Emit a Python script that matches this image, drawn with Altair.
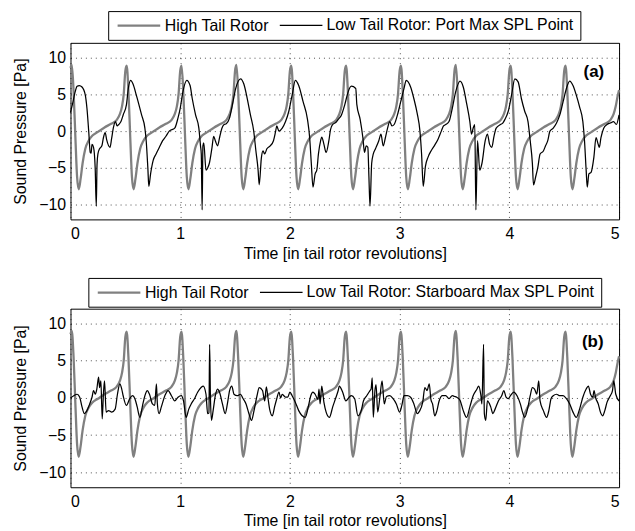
import altair as alt
import pandas as pd

HIGH = "High Tail Rotor"
PORT = "Low Tail Rotor: Port Max SPL Point"
STAR = "Low Tail Rotor: Starboard Max SPL Point"

x_ticks = [0, 1, 2, 3, 4, 5]
y_ticks = [-10, -5, 0, 5, 10]

# High tail rotor (same in both panels)
high_t = [
    0.000, 0.012, 0.028, 0.045, 0.060, 0.075, 0.092, 0.110, 0.135, 0.165, 0.200, 0.250, 0.310, 0.370, 0.420, 0.450, 0.470, 0.485,
    0.500, 0.512, 0.528, 0.545, 0.560, 0.575, 0.592, 0.610, 0.635, 0.665, 0.700, 0.750, 0.810, 0.870, 0.920, 0.950, 0.970, 0.985,
    1.000, 1.012, 1.028, 1.045, 1.060, 1.075, 1.092, 1.110, 1.135, 1.165, 1.200, 1.250, 1.310, 1.370, 1.420, 1.450, 1.470, 1.485,
    1.500, 1.512, 1.528, 1.545, 1.560, 1.575, 1.592, 1.610, 1.635, 1.665, 1.700, 1.750, 1.810, 1.870, 1.920, 1.950, 1.970, 1.985,
    2.000, 2.012, 2.028, 2.045, 2.060, 2.075, 2.092, 2.110, 2.135, 2.165, 2.200, 2.250, 2.310, 2.370, 2.420, 2.450, 2.470, 2.485,
    2.500, 2.512, 2.528, 2.545, 2.560, 2.575, 2.592, 2.610, 2.635, 2.665, 2.700, 2.750, 2.810, 2.870, 2.920, 2.950, 2.970, 2.985,
    3.000, 3.012, 3.028, 3.045, 3.060, 3.075, 3.092, 3.110, 3.135, 3.165, 3.200, 3.250, 3.310, 3.370, 3.420, 3.450, 3.470, 3.485,
    3.500, 3.512, 3.528, 3.545, 3.560, 3.575, 3.592, 3.610, 3.635, 3.665, 3.700, 3.750, 3.810, 3.870, 3.920, 3.950, 3.970, 3.985,
    4.000, 4.012, 4.028, 4.045, 4.060, 4.075, 4.092, 4.110, 4.135, 4.165, 4.200, 4.250, 4.310, 4.370, 4.420, 4.450, 4.470, 4.485,
    4.500, 4.512, 4.528, 4.545, 4.560, 4.575, 4.592, 4.610, 4.635, 4.665, 4.700, 4.750, 4.810, 4.870, 4.920, 4.950, 4.970, 4.985,
    5.000,
]
high_v = [
    8.6, 9.0, 5.5, -1.0, -6.2, -7.9, -6.5, -4.4, -2.4, -1.3, -0.6, -0.1, 0.5, 1.0, 1.5, 2.3, 3.4, 5.0,
    8.2, 8.9, 5.5, -1.0, -6.2, -7.9, -6.5, -4.4, -2.4, -1.3, -0.6, -0.1, 0.5, 1.0, 1.5, 2.3, 3.4, 5.0,
    8.2, 8.9, 5.4, -1.1, -6.2, -7.9, -6.5, -4.4, -2.4, -1.3, -0.6, -0.1, 0.5, 1.0, 1.5, 2.3, 3.4, 5.0,
    8.2, 9.0, 5.5, -1.0, -6.2, -7.9, -6.5, -4.4, -2.4, -1.3, -0.6, -0.1, 0.5, 1.0, 1.5, 2.3, 3.4, 5.0,
    8.2, 8.9, 5.5, -1.0, -6.2, -7.9, -6.5, -4.4, -2.4, -1.3, -0.6, -0.1, 0.5, 1.0, 1.5, 2.3, 3.4, 5.0,
    8.2, 8.9, 5.5, -1.0, -6.2, -7.9, -6.5, -4.4, -2.4, -1.3, -0.6, -0.1, 0.5, 1.0, 1.5, 2.3, 3.4, 5.0,
    8.2, 8.9, 5.5, -1.0, -6.2, -7.9, -6.5, -4.4, -2.4, -1.3, -0.6, -0.1, 0.5, 1.0, 1.5, 2.3, 3.4, 5.0,
    8.2, 9.0, 5.5, -1.0, -6.2, -7.9, -6.5, -4.4, -2.4, -1.3, -0.6, -0.1, 0.5, 1.0, 1.5, 2.3, 3.4, 5.0,
    8.2, 8.9, 5.5, -1.0, -6.2, -7.9, -6.5, -4.4, -2.4, -1.3, -0.6, -0.1, 0.5, 1.0, 1.5, 2.3, 3.4, 5.0,
    8.2, 8.9, 5.5, -1.0, -6.2, -7.9, -6.5, -4.4, -2.4, -1.3, -0.6, -0.1, 0.5, 1.0, 1.5, 2.3, 3.4, 4.6,
    5.6,
]

# Low tail rotor, port max SPL point (panel a)
port_t = [
    0.000, 0.020, 0.040, 0.060, 0.080, 0.105, 0.135, 0.150, 0.166, 0.180, 0.188, 0.196, 0.210, 0.225, 0.235, 0.242,
    0.250, 0.265, 0.286, 0.300, 0.316, 0.330, 0.360, 0.375, 0.390, 0.410, 0.425, 0.440, 0.460, 0.480, 0.510, 0.527,
    0.548, 0.570, 0.600, 0.648, 0.678, 0.690, 0.705, 0.714, 0.730, 0.753, 0.780, 0.810, 0.840, 0.870, 0.900, 0.950,
    0.980, 1.000, 1.024, 1.060, 1.090, 1.110, 1.140, 1.170, 1.185, 1.192, 1.200, 1.207, 1.215, 1.235, 1.250, 1.265,
    1.290, 1.305, 1.320, 1.340, 1.360, 1.380, 1.400, 1.420, 1.450, 1.476, 1.506, 1.550, 1.580, 1.610, 1.640, 1.670,
    1.690, 1.710, 1.720, 1.740, 1.755, 1.770, 1.790, 1.820, 1.850, 1.870, 1.880, 1.900, 1.930, 1.960, 1.990, 2.020,
    2.050, 2.080, 2.120, 2.160, 2.180, 2.195, 2.210, 2.230, 2.245, 2.260, 2.280, 2.290, 2.310, 2.330, 2.355, 2.370,
    2.390, 2.420, 2.440, 2.470, 2.500, 2.530, 2.560, 2.600, 2.610, 2.640, 2.665, 2.680, 2.695, 2.710, 2.720, 2.730,
    2.745, 2.760, 2.780, 2.810, 2.830, 2.850, 2.870, 2.890, 2.910, 2.930, 2.950, 2.980, 3.010, 3.040, 3.060, 3.100,
    3.130, 3.160, 3.185, 3.200, 3.215, 3.235, 3.260, 3.290, 3.320, 3.350, 3.380, 3.400, 3.420, 3.450, 3.480, 3.510,
    3.550, 3.580, 3.610, 3.640, 3.655, 3.670, 3.685, 3.695, 3.710, 3.730, 3.750, 3.780, 3.800, 3.820, 3.840, 3.860,
    3.880, 3.920, 3.940, 3.960, 3.990, 4.020, 4.050, 4.080, 4.110, 4.140, 4.170, 4.190, 4.210, 4.220, 4.240, 4.260,
    4.280, 4.310, 4.330, 4.350, 4.370, 4.400, 4.430, 4.460, 4.490, 4.520, 4.550, 4.580, 4.610, 4.640, 4.670, 4.685,
    4.700, 4.710, 4.725, 4.745, 4.770, 4.790, 4.810, 4.820, 4.835, 4.860, 4.890, 4.920, 4.950, 4.975, 5.000,
]
port_v = [
    2.5, 3.8, 5.2, 6.1, 6.2, 6.0, 4.9, 3.1, 0.0, -2.9, -3.0, -1.8, -2.2, -5.0, -10.2, -4.5,
    -3.1, -2.4, -2.0, -0.9, -0.2, -1.2, -2.2, -1.0, 0.4, 1.3, 0.7, 0.9, 1.3, 2.2, 3.6, 5.8,
    6.9, 6.4, 4.9, 2.2, 0.4, -1.3, -5.0, -7.5, -5.8, -4.0, -3.1, -2.2, -1.3, -0.7, 0.0, 0.4,
    1.8, 3.1, 5.3, 6.9, 6.2, 4.4, 2.2, 0.4, -2.0, -3.1, -10.7, -2.0, -1.6, -5.3, -5.0, -4.4,
    -2.2, -0.7, -1.3, -2.0, -0.8, 0.4, 0.9, 1.0, 1.8, 3.6, 5.8, 7.1, 6.4, 4.5, 2.2, 0.0,
    -2.7, -5.3, -7.3, -3.6, -2.7, -3.1, -2.4, -2.0, -1.3, 0.0, 0.7, 0.0, 0.4, 1.3, 2.7, 4.9,
    6.9, 6.2, 4.0, 1.6, -0.9, -4.4, -7.6, -5.8, -5.3, -3.1, -1.3, -0.8, -1.8, -2.9, -1.3, 0.2,
    0.9, 1.2, 1.6, 2.2, 3.6, 5.3, 6.1, 5.8, 3.6, 1.6, -0.9, -2.9, -2.0, -2.2, -6.2, -10.2,
    -4.4, -3.1, -2.4, -1.3, -0.4, -2.0, -0.9, 0.4, 1.3, 0.7, 0.9, 2.2, 4.0, 5.8, 6.9, 6.0,
    4.4, 2.4, 0.0, -3.1, -7.5, -4.8, -3.5, -2.6, -1.9, -1.1, 0.0, 0.7, 0.9, 1.3, 3.1, 5.3,
    6.8, 6.0, 3.8, 1.3, -0.4, 0.4, 0.9, -10.7, -1.3, -5.3, -4.4, -1.3, -0.4, -1.8, -2.2, -0.7,
    0.4, 0.9, 1.1, 1.6, 2.7, 4.9, 7.1, 6.7, 4.4, 2.7, 1.3, -1.3, -4.4, -7.3, -6.2, -4.9,
    -3.1, -2.7, -2.0, -1.3, 0.0, 0.4, 1.1, 2.2, 4.0, 5.8, 6.8, 6.2, 4.9, 3.3, 1.3, -1.3,
    -5.3, -7.6, -5.8, -5.6, -3.6, -0.9, -1.8, -2.2, -0.9, 0.4, 0.9, 1.1, 1.3, 0.9, 2.2,
]

# Low tail rotor, starboard max SPL point (panel b)
star_t = [
    0.000, 0.030, 0.060, 0.084, 0.105, 0.127, 0.150, 0.175, 0.196, 0.210, 0.226, 0.240, 0.256, 0.265, 0.277, 0.289,
    0.300, 0.310, 0.325, 0.346, 0.376, 0.407, 0.428, 0.450, 0.467, 0.480, 0.510, 0.540, 0.566, 0.587, 0.608, 0.632,
    0.657, 0.678, 0.700, 0.720, 0.747, 0.768, 0.783, 0.792, 0.807, 0.828, 0.860, 0.890, 0.920, 0.950, 0.980, 1.010,
    1.030, 1.054, 1.078, 1.100, 1.130, 1.160, 1.190, 1.210, 1.235, 1.250, 1.262, 1.268, 1.275, 1.285, 1.300, 1.320,
    1.340, 1.360, 1.385, 1.410, 1.430, 1.450, 1.470, 1.490, 1.520, 1.550, 1.570, 1.600, 1.630, 1.650, 1.670, 1.700,
    1.720, 1.750, 1.770, 1.785, 1.800, 1.815, 1.840, 1.860, 1.880, 1.900, 1.915, 1.930, 1.945, 1.960, 1.980, 2.000,
    2.020, 2.050, 2.080, 2.140, 2.170, 2.190, 2.210, 2.230, 2.255, 2.265, 2.275, 2.290, 2.310, 2.330, 2.360, 2.390,
    2.420, 2.440, 2.450, 2.480, 2.510, 2.540, 2.560, 2.590, 2.620, 2.650, 2.670, 2.700, 2.730, 2.740, 2.750, 2.760,
    2.775, 2.785, 2.800, 2.820, 2.840, 2.860, 2.880, 2.910, 2.940, 2.970, 3.000, 3.020, 3.040, 3.070, 3.100, 3.130,
    3.160, 3.180, 3.210, 3.230, 3.250, 3.270, 3.285, 3.300, 3.320, 3.340, 3.360, 3.390, 3.420, 3.450, 3.480, 3.500,
    3.520, 3.550, 3.580, 3.610, 3.640, 3.670, 3.705, 3.720, 3.740, 3.750, 3.765, 3.772, 3.785, 3.800, 3.830, 3.850,
    3.870, 3.900, 3.930, 3.950, 3.970, 3.990, 4.010, 4.040, 4.070, 4.100, 4.120, 4.140, 4.170, 4.190, 4.210, 4.230,
    4.250, 4.268, 4.280, 4.310, 4.340, 4.360, 4.380, 4.400, 4.430, 4.460, 4.490, 4.520, 4.550, 4.580, 4.610, 4.640,
    4.670, 4.700, 4.720, 4.740, 4.760, 4.772, 4.785, 4.810, 4.830, 4.850, 4.870, 4.890, 4.920, 4.940, 4.952, 4.970,
    5.000,
]
star_v = [
    0.0, 0.3, 0.5, 0.1, -1.2, -2.1, -1.7, -0.8, 0.1, 1.0, 0.5, 1.2, 2.8, 1.4, 2.3, -2.8,
    0.5, 2.3, -1.9, -1.7, -1.9, -1.5, 0.5, 1.9, 1.2, 0.3, -1.0, -0.1, 0.3, -0.1, -1.2, -2.6,
    -1.0, 0.3, 1.0, 0.5, -0.8, -1.0, 1.9, -0.8, -2.1, -1.2, 0.3, 1.0, 0.3, -0.4, 0.1, 0.3,
    -0.4, -2.6, -1.5, -0.8, -0.1, 0.8, 1.4, 1.6, 0.5, -2.1, -2.0, 7.2, 0.5, -3.0, -1.7, 0.3,
    1.2, 0.7, -0.8, -2.1, -0.8, 1.0, 1.6, 0.5, 0.3, 0.5, 0.0, -0.8, -2.3, -3.0, -1.9, 0.3,
    1.4, 1.0, -0.4, 1.5, 0.0, -1.5, -2.4, -1.2, -0.1, 0.8, 0.0, 0.5, 0.3, 0.1, 0.1, 0.8,
    0.3, -0.6, -1.7, -2.6, -1.0, 0.3, 0.8, 0.5, -0.2, 1.2, -0.8, 1.6, -0.6, -1.9, -2.6, -1.2,
    0.1, 1.0, 1.6, 0.8, -0.4, 0.1, 0.3, -0.1, -2.4, -1.7, -0.4, 0.3, 1.0, 1.2, 2.7, -2.6,
    1.0, 1.8, -1.9, 0.1, 2.3, -0.8, 0.2, 0.3, -0.1, -0.8, -1.9, -1.0, 0.3, 0.3, 0.1, -0.8,
    -2.1, -1.8, -0.6, 1.4, 1.0, 1.9, -0.2, -0.8, -2.4, -1.7, -0.4, 0.3, 0.3, -0.1, 0.3, 0.2,
    0.1, -0.3, -1.7, -2.6, -1.2, 0.3, 1.2, 1.6, 0.4, -0.8, 7.2, -2.1, -3.0, -0.4, -1.2, -2.1,
    -1.5, -0.4, 0.3, 1.0, 0.1, -0.1, 0.3, 0.8, 0.3, -0.8, -1.9, -2.6, -1.2, 0.3, 1.4, 1.2,
    0.5, 2.3, -0.4, -1.7, -2.6, -1.7, -0.1, 0.3, 0.5, 0.3, 0.3, -0.1, -0.8, -1.9, -2.6, -1.5,
    0.1, 1.2, 1.6, 0.5, 0.1, 1.0, 0.1, -0.8, -1.9, -2.4, -1.7, -0.6, 0.3, 1.0, 2.3, 0.5,
    -0.4,
]

panel_labels = ["(a)", "(b)"]
label_t = [4.77, 4.76]
label_v = [8.0, 7.5]

FONT = "Liberation Sans"
GRAY = "#808080"


def panel(low_t, low_v, low_name, idx):
    domain = [HIGH, low_name]
    high_df = pd.DataFrame({"t": high_t, "p": high_v, "series": HIGH})
    low_df = pd.DataFrame({"t": low_t, "p": low_v, "series": low_name})
    lab_df = pd.DataFrame({"t": [label_t[idx]], "p": [label_v[idx]], "txt": [panel_labels[idx]]})

    x = alt.X("t:Q", scale=alt.Scale(domain=[0, 5], nice=False, zero=False),
              axis=alt.Axis(values=x_ticks, format="d", title="Time [in tail rotor revolutions]"))
    y = alt.Y("p:Q", scale=alt.Scale(domain=[-12, 12], nice=False),
              axis=alt.Axis(values=y_ticks, format="d", title="Sound Pressure [Pa]"))
    color = alt.Color(
        "series:N",
        scale=alt.Scale(domain=domain, range=[GRAY, "#000000"]),
        legend=alt.Legend(
            orient="none", legendX=38 if idx == 0 else 18, legendY=-32 if idx == 0 else -31,
            direction="horizontal", title=None,
            symbolType="M-0.7,0H5.3", symbolSize=205, symbolStrokeWidth=1.6,
            labelOffset=34, labelFont=FONT, labelFontSize=16, labelColor="black",
            labelLimit=0, columnPadding=8, padding=6,
            strokeColor="black", fillColor="white",
        ),
    )
    sw = alt.StrokeWidth("series:N", scale=alt.Scale(domain=domain, range=[2.3, 1.25]), legend=None)

    high_line = alt.Chart(high_df).mark_line(interpolate="monotone").encode(x=x, y=y, color=color, strokeWidth=sw)
    low_line = alt.Chart(low_df).mark_line(interpolate="monotone").encode(x=x, y=y, color=color, strokeWidth=sw)
    lab = alt.Chart(lab_df).mark_text(font=FONT, fontSize=17, fontWeight="bold", color="black").encode(
        x=alt.X("t:Q"), y=alt.Y("p:Q"), text="txt:N")
    return alt.layer(high_line, low_line, lab).properties(width=553, height=178 if idx == 0 else 180)


top = panel(port_t, port_v, PORT, 0)
bottom = panel(star_t, star_v, STAR, 1)

chart = (
    alt.vconcat(top, bottom, spacing=15)
    .resolve_scale(color="independent", strokeWidth="independent")
    .resolve_legend(color="independent", strokeWidth="independent")
    .properties(padding={"top": 0, "left": 4, "right": 2, "bottom": 0}, background="white")
    .configure_view(stroke="black", strokeWidth=1)
    .configure_axis(
        labelFont=FONT, labelFontSize=16, labelColor="black",
        titleFont=FONT, titleFontSize=16, titleFontWeight="normal", titleColor="black",
        ticks=False, domain=False,
        grid=True, gridColor="black", gridDash=[1, 4], gridOpacity=0.7, gridWidth=1,
    )
    .configure_axisX(labelPadding=6, titlePadding=4)
    .configure_axisY(labelPadding=5, titlePadding=10)
)

chart.save("out.html", embed_options={"renderer": "svg", "actions": False})
